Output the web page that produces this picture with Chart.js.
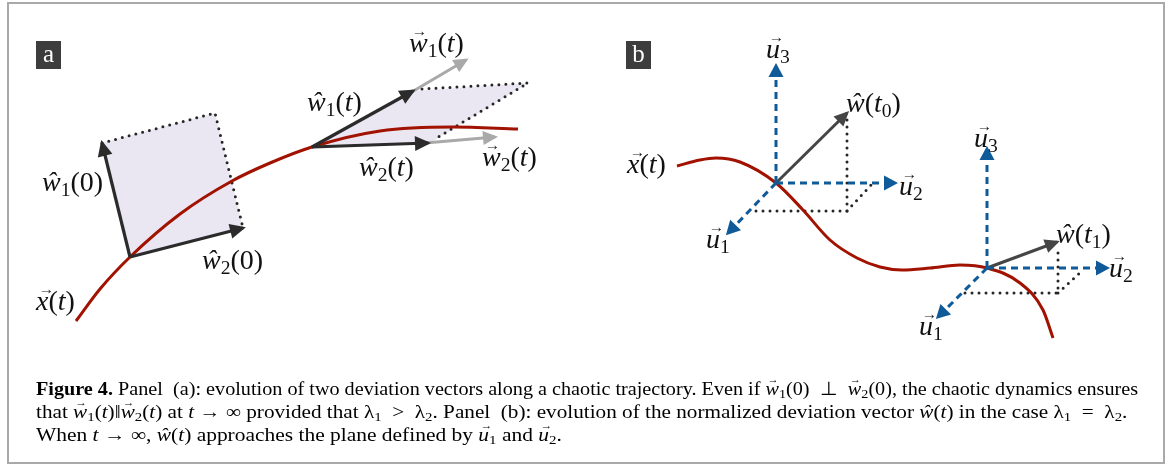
<!DOCTYPE html>
<html>
<head>
<meta charset="utf-8">
<script src="https://cdn.jsdelivr.net/npm/chart.js@4"></script>
<style>
  body{margin:0;background:#fff;}
  #wrap{position:relative;width:1171px;height:470px;overflow:hidden;}
  #frame{position:absolute;left:7px;top:2px;width:1158px;height:462px;box-sizing:border-box;border:2px solid #a9a9a9;}
  #cv{position:absolute;left:0;top:0;width:1171px;height:470px;}
  .tag{position:absolute;width:25px;height:28px;background:#3d3d3d;color:#fff;font:25px "Liberation Serif";line-height:26px;text-align:center;}
  .lab{position:absolute;font:28px "Liberation Serif";line-height:1;white-space:nowrap;color:#111;}
  .lab i,.cap i{font-style:italic;}
  .v{position:relative;display:inline-block;font-style:italic;}
  .v::before{content:"\2192";position:absolute;font-style:normal;font-size:0.55em;top:-0.42em;left:0.18em;}
  sub{font-size:0.7em;vertical-align:-0.25em;line-height:0;font-style:normal;}
  .cap{position:absolute;left:36px;font:19px "Liberation Serif";line-height:1;white-space:nowrap;transform-origin:0 0;color:#000;}
</style>
</head>
<body>
<div id="wrap">
  <div id="frame"></div>
  <canvas id="cv" width="1171" height="470"></canvas>

  <div class="tag" style="left:36px;top:41px">a</div>
  <div class="tag" style="left:626px;top:41px">b</div>

  <div class="lab" style="left:42px;top:168px"><i>ŵ</i><sub>1</sub>(0)</div>
  <div class="lab" style="left:202px;top:246px"><i>ŵ</i><sub>2</sub>(0)</div>
  <div class="lab" style="left:36px;top:287px"><span class="v">x</span>(<i>t</i>)</div>
  <div class="lab" style="left:307px;top:88px"><i>ŵ</i><sub>1</sub>(<i>t</i>)</div>
  <div class="lab" style="left:359px;top:153px"><i>ŵ</i><sub>2</sub>(<i>t</i>)</div>
  <div class="lab" style="left:409px;top:29px"><span class="v">w</span><sub>1</sub>(<i>t</i>)</div>
  <div class="lab" style="left:482px;top:143px"><span class="v">w</span><sub>2</sub>(<i>t</i>)</div>

  <div class="lab" style="left:766px;top:35px"><span class="v">u</span><sub>3</sub></div>
  <div class="lab" style="left:846px;top:89px"><i>ŵ</i>(<i>t</i><sub>0</sub>)</div>
  <div class="lab" style="left:899px;top:172px"><span class="v">u</span><sub>2</sub></div>
  <div class="lab" style="left:706px;top:225px"><span class="v">u</span><sub>1</sub></div>
  <div class="lab" style="left:627px;top:150px"><span class="v">x</span>(<i>t</i>)</div>
  <div class="lab" style="left:974px;top:124px"><span class="v">u</span><sub>3</sub></div>
  <div class="lab" style="left:1056px;top:220px"><i>ŵ</i>(<i>t</i><sub>1</sub>)</div>
  <div class="lab" style="left:1109px;top:254px"><span class="v">u</span><sub>2</sub></div>
  <div class="lab" style="left:919px;top:312px"><span class="v">u</span><sub>1</sub></div>

  <div class="cap" id="c1" style="top:379px"><b>Figure 4.</b> Panel&nbsp; (a): evolution of two deviation vectors along a chaotic trajectory. Even if <span class="v">w</span><sub>1</sub>(0) &nbsp;⊥ &nbsp;<span class="v">w</span><sub>2</sub>(0), the chaotic dynamics ensures</div>
  <div class="cap" id="c2" style="top:402px">that <span class="v">w</span><sub>1</sub>(<i>t</i>)‖<span class="v">w</span><sub>2</sub>(<i>t</i>) at <i>t</i> → ∞ provided that λ<sub>1</sub> &nbsp;&gt; &nbsp;λ<sub>2</sub>. Panel&nbsp; (b): evolution of the normalized deviation vector <i>ŵ</i>(<i>t</i>) in the case λ<sub>1</sub> &nbsp;= &nbsp;λ<sub>2</sub>.</div>
  <div class="cap" id="c3" style="top:425px">When <i>t</i> → ∞, <i>ŵ</i>(<i>t</i>) approaches the plane defined by <span class="v">u</span><sub>1</sub> and <span class="v">u</span><sub>2</sub>.</div>
</div>

<script>
// trajectories
const curveA = [[76,321],[100,289],[130,257],[180,214],[232,181],[270,163],[312,147],[380,131],[453,127],[518,129]];
const curveB = [[677,166],[700,160],[716,158],[740,162],[776,183],[803,210],[830,240],[857,258],[880,267],[902,270],[930,268],[960,265],[987,268],[1020,283],[1043,310],[1053,338]];

// panel a: deviation vectors and their parallelograms
const w1_0 = [[130,257],[102,143]];
const w2_0 = [[130,257],[243,228]];
const areaA0 = [[130,257],[102,143],[215,113],[243,228]];
const edgeA0 = [[102,143],[215,113],[243,228]];

const w1_t = [[312,147],[413,91]];
const w2_t = [[312,147],[428,143]];
const w1_long = [[410,93],[466,60]];
const w2_long = [[425,143],[495,137]];
const areaAt = [[312,147],[413,91],[528,83],[430,143]];
const edgeAt = [[422,89],[528,83],[435,139]];

// panel b: local frames
const u3_0 = [[776,183],[776,66]];
const u2_0 = [[776,183],[895,183]];
const u1_0 = [[776,183],[728,233]];
const w_t0 = [[776,183],[847,113]];
const boxB0 = [[756,211],[847,211],[847,118]];
const diagB0 = [[847,211],[872,184]];

const u3_1 = [[987,268],[987,149]];
const u2_1 = [[987,268],[1107,268]];
const u1_1 = [[987,268],[938,317]];
const w_t1 = [[987,268],[1057,242]];
const boxB1 = [[965,293],[1058,293],[1058,246]];
const diagB1 = [[1058,293],[1083,270]];

const RED = '#a11200', DARK = '#2b2b2b', GREY = '#a9a9a9', BLUE = '#0f5a98', WB = '#454545', FILL = '#ebe7f2';

const pts = a => a.map(p => ({x:p[0], y:p[1]}));

function line(data, color, width, more){
  return Object.assign({data:pts(data), borderColor:color, borderWidth:width, pointRadius:0, tension:0, fill:false, borderCapStyle:'butt'}, more || {});
}
const arrow = (data, color, width, head, dash) => line(data, color, width, {head:head, borderDash:dash || []});
const dots = data => line(data, '#262626', 3, {borderDash:[0,7], borderCapStyle:'round'});
const area = data => ({data:pts(data), showLine:false, pointRadius:0, shade:FILL});

// listed bottom to top
const layers = [
  area(areaA0), area(areaAt),
  dots(edgeA0), dots(edgeAt), dots(boxB0), dots(diagB0), dots(boxB1), dots(diagB1),
  line(curveA, RED, 3, {cubicInterpolationMode:'monotone'}),
  line(curveB, RED, 3, {cubicInterpolationMode:'monotone'}),
  arrow(w1_long, GREY, 3, [15,7]), arrow(w2_long, GREY, 3, [15,7]),
  arrow(w1_0, DARK, 3.2, [16,7.5]), arrow(w2_0, DARK, 3.2, [16,7.5]),
  arrow(w1_t, DARK, 3.2, [16,7.5]), arrow(w2_t, DARK, 3.2, [16,7.5]),
  arrow(w_t0, WB, 3, [15,7]), arrow(w_t1, WB, 3, [15,7]),
  arrow(u3_0, BLUE, 3, [14,7.5], [7,5]), arrow(u2_0, BLUE, 3, [14,7.5], [7,5]), arrow(u1_0, BLUE, 3, [14,7.5], [7,5]),
  arrow(u3_1, BLUE, 3, [14,7.5], [7,5]), arrow(u2_1, BLUE, 3, [14,7.5], [7,5]), arrow(u1_1, BLUE, 3, [14,7.5], [7,5])
];

// parallelogram shading
const shapeFill = {
  id:'shapeFill',
  beforeDatasetDraw(chart, args){
    const ds = chart.data.datasets[args.index];
    if(!ds.shade) return;
    const ctx = chart.ctx, p = args.meta.data;
    ctx.save();
    ctx.beginPath();
    p.forEach((e,i) => i ? ctx.lineTo(e.x, e.y) : ctx.moveTo(e.x, e.y));
    ctx.closePath();
    ctx.fillStyle = ds.shade;
    ctx.fill();
    ctx.restore();
  }
};

// arrow heads at the last point
const arrowHeads = {
  id:'arrowHeads',
  afterDatasetDraw(chart, args){
    const ds = chart.data.datasets[args.index];
    if(!ds.head) return;
    const p = args.meta.data, a = p[p.length-2], b = p[p.length-1];
    const [len, half] = ds.head;
    const ctx = chart.ctx;
    ctx.save();
    ctx.translate(b.x, b.y);
    ctx.rotate(Math.atan2(b.y - a.y, b.x - a.x));
    ctx.beginPath();
    ctx.moveTo(3, 0);
    ctx.lineTo(3 - len, -half);
    ctx.lineTo(3 - len, half);
    ctx.closePath();
    ctx.fillStyle = ds.borderColor;
    ctx.fill();
    ctx.restore();
  }
};

new Chart(document.getElementById('cv'), {
  type:'line',
  data:{datasets:layers.slice().reverse()},
  options:{
    responsive:false,
    animation:false,
    events:[],
    layout:{padding:0},
    plugins:{legend:{display:false}, tooltip:{enabled:false}},
    scales:{
      x:{type:'linear', min:0, max:1171, display:false},
      y:{type:'linear', min:0, max:470, reverse:true, display:false}
    }
  },
  plugins:[shapeFill, arrowHeads]
});

// squeeze caption lines to the condensed widths of the original
const capWidths = {c1:1102, c2:1091, c3:526};
Object.keys(capWidths).forEach(id => {
  const el = document.getElementById(id);
  el.style.transform = 'scaleX(' + (capWidths[id] / el.scrollWidth) + ')';
});
</script>
</body>
</html>
